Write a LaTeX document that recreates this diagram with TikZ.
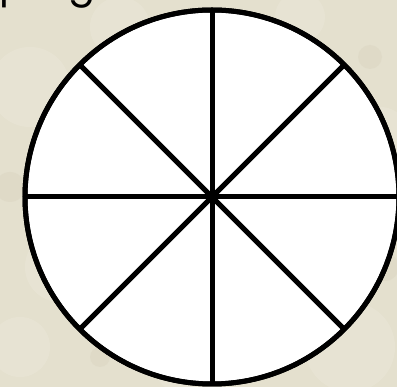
\documentclass[tikz,border=0pt]{standalone}
\usepackage{fontspec}
\setmainfont{Poppins}
\definecolor{paper}{RGB}{228,224,206}
\definecolor{paperlight}{RGB}{238,235,222}
\definecolor{paperdark}{RGB}{212,206,186}
\begin{document}
\begin{tikzpicture}[x=1pt,y=1pt,
  spoke/.style={line width=5pt,black},
  rim/.style={line width=5pt,black,fill=white},
  glyph/.style={anchor=base west,inner sep=0pt,font=\fontsize{40}{40}\selectfont}]
\useasboundingbox (0,0) rectangle (397,387);
\fill[paper] (0,0) rectangle (397,387);
\foreach \x/\y/\r in {30/300/40,120/360/30,350/40/45,60/120/35,300/370/25,380/250/30,20/40/30,180/20/25}
  \fill[paperlight,opacity=0.35] (\x,\y) circle (\r);
\foreach \x/\y/\r in {10/200/15,370/330/12,100/30/10,385/120/14}
  \fill[paperdark,opacity=0.3] (\x,\y) circle (\r);
\node[glyph] (t1) at (-1,389) {p};
\node[glyph] (t2) at (68,389) {g};
\coordinate (c) at (212,190);
\draw[rim] (c) circle (187);
\foreach \a in {0,45,...,315}
  \draw[spoke] (c) -- ++(\a:187);
\draw[line width=5pt] (c) circle (187);
\end{tikzpicture}
\end{document}
